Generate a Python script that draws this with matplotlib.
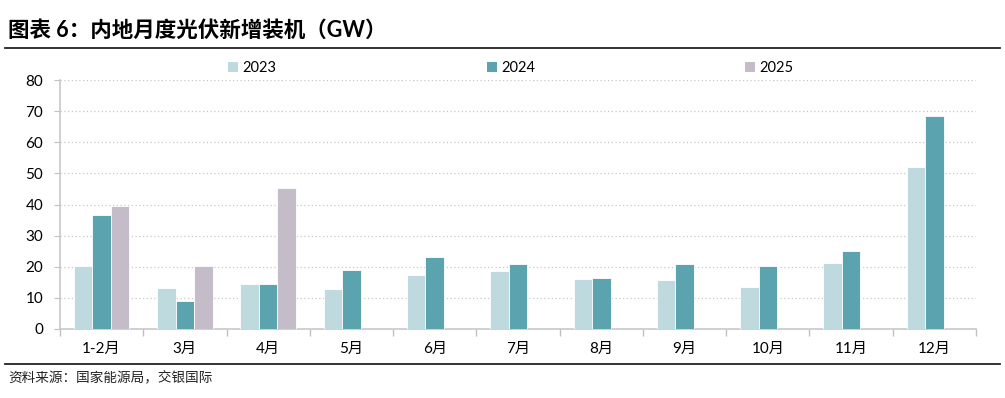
import matplotlib.pyplot as plt
from matplotlib.lines import Line2D
from matplotlib.patches import Patch
import numpy as np

plt.rcParams['font.family'] = ['Lato', 'Noto Sans CJK SC', 'DejaVu Sans']

months = ['1-2月', '3月', '4月', '5月', '6月', '7月', '8月', '9月', '10月', '11月', '12月']
years = ['2023', '2024', '2025']
vals2023 = [20.2, 13.2, 14.6, 12.9, 17.2, 18.7, 16.0, 15.7, 13.6, 21.3, 52.2]
vals2024 = [36.7, 9.0, 14.4, 19.0, 23.2, 21.0, 16.5, 20.9, 20.3, 25.0, 68.3]
vals2025 = [39.5, 20.2, 45.2, np.nan, np.nan, np.nan, np.nan, np.nan, np.nan, np.nan, np.nan]
colors = ['#bedadf', '#5ba3ae', '#c4bcc9']

W, H = 1005, 398
fig = plt.figure(figsize=(W/100, H/100), dpi=100)
ax = fig.add_axes([60/W, (H-329)/H, 916/W, 249/H])

x = np.arange(len(months))
bw = 0.222
for i, (v, c) in enumerate(zip([vals2023, vals2024, vals2025], colors)):
    ax.bar(x + (i-1)*bw, v, bw, color=c, edgecolor='white', linewidth=0.6, zorder=3)

ax.set_xlim(-0.5, len(months)-0.5)
ax.set_ylim(0, 80)
ax.set_yticks(range(0, 81, 10))
ax.yaxis.grid(True, linestyle=(0, (1, 2)), color='#c8c8c8', linewidth=0.9, zorder=0)
ax.set_xticks(x)
ax.set_xticklabels(months)
ax.set_xticks(np.arange(-0.5, len(months), 1), minor=True)
ax.tick_params(axis='x', which='major', length=0, pad=9, labelsize=11, colors='black')
ax.tick_params(axis='x', which='minor', length=5, color='#c0c0c0', width=1)
ax.tick_params(axis='y', length=4, color='#c0c0c0', labelsize=11, pad=8)
for s in ['top', 'right']:
    ax.spines[s].set_visible(False)
for s in ['left', 'bottom']:
    ax.spines[s].set_color('#c8c8c8')
    ax.spines[s].set_linewidth(1.2)

handles = [Patch(facecolor=c, edgecolor='none') for c in colors]
fig.legend(handles, years, loc='center left', bbox_to_anchor=(228/W, 1-68/H), ncol=3,
           frameon=False, fontsize=10.5, handlelength=0.7, handleheight=0.7,
           handletextpad=0.3, columnspacing=14.4, borderaxespad=0, borderpad=0)

fig.text(8/W, 1-30/H, '图表 6：内地月度光伏新增装机（GW）', fontsize=15.5, fontweight='bold',
         va='center', ha='left')
fig.add_artist(Line2D([5/W, 1000/W], [1-48/H, 1-48/H], color='#222222', linewidth=1.3))
fig.add_artist(Line2D([5/W, 1000/W], [1-364/H, 1-364/H], color='#222222', linewidth=1.3))
fig.text(8/W, 1-377/H, '资料来源：国家能源局，交银国际', fontsize=9.8, style='italic',
         va='center', ha='left', color='#222222')

fig.savefig('out.png', dpi=100)
